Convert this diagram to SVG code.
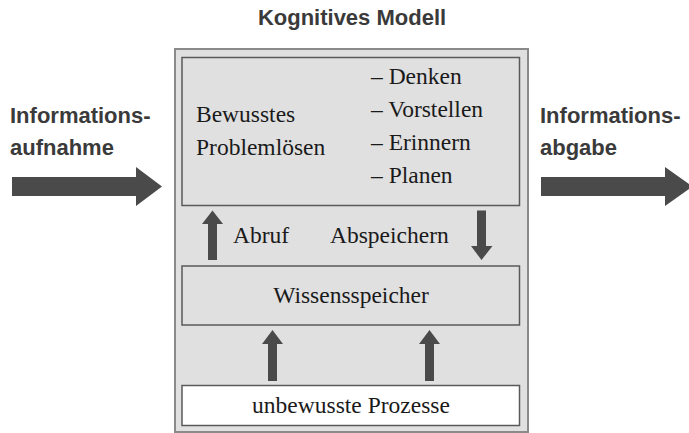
<svg xmlns="http://www.w3.org/2000/svg" width="689" height="433" viewBox="0 0 689 433">
<defs>
<style>
.lbl{font-family:"Liberation Sans",Arial,sans-serif;font-weight:bold;font-size:22px;fill:#3a3a3a}
.ser{font-family:"Liberation Serif","Times New Roman",serif;font-size:23.5px;fill:#1a1a1a}
.box{fill:#e0e0e0;stroke:#5a5a5a;stroke-width:1.5}
.arr{fill:#4a4a4a}
</style>
</defs>
<rect width="689" height="433" fill="#ffffff"/>
<text class="lbl" x="352" y="25" text-anchor="middle">Kognitives Modell</text>
<g id="modell">
<rect x="175" y="49" width="353" height="383" fill="#e0e0e0" stroke="#8a8a8a" stroke-width="2"/>
</g>
<g id="bewusst">
<rect class="box" x="182" y="57.5" width="337.5" height="148"/>
<text class="ser" x="196" y="122">Bewusstes</text>
<text class="ser" x="196" y="155">Problemlösen</text>
<text class="ser" x="371" y="84">– Denken</text>
<text class="ser" x="371" y="117">– Vorstellen</text>
<text class="ser" x="371" y="150">– Erinnern</text>
<text class="ser" x="371" y="183">– Planen</text>
</g>
<g id="wissen">
<rect class="box" x="182" y="266" width="337.5" height="59"/>
<text class="ser" x="351" y="303" text-anchor="middle">Wissensspeicher</text>
</g>
<g id="unbewusst">
<rect class="box" x="182" y="385.5" width="337.5" height="40" style="fill:#ffffff"/>
<text class="ser" x="351" y="413" text-anchor="middle">unbewusste Prozesse</text>
</g>
<g id="eingabe">
<text class="lbl" x="10" y="123">Informations-</text>
<text class="lbl" x="10" y="155">aufnahme</text>
</g>
<g id="ausgabe">
<text class="lbl" x="540" y="123">Informations-</text>
<text class="lbl" x="540" y="155">abgabe</text>
</g>
<g id="connectors">
<polygon class="arr" points="12,177 136,177 136,167 162,186.5 136,206 136,196 12,196"/>
<polygon class="arr" points="541,177 665,177 665,167 689,184 689,189 665,206 665,196 541,196"/>
<polygon class="arr" points="208,260 208,224 202,224 212.5,210.5 223,224 217,224 217,260"/>
<text class="ser" x="233" y="243">Abruf</text>
<text class="ser" x="330" y="243">Abspeichern</text>
<polygon class="arr" points="477,210.5 486,210.5 486,246 492.5,246 481.5,260 471,246 477,246"/>
<polygon class="arr" points="268,381 268,344 262,344 272.5,330 283,344 277,344 277,381"/>
<polygon class="arr" points="425,381 425,344 419,344 429.5,330 440,344 434,344 434,381"/>
</g>
</svg>
